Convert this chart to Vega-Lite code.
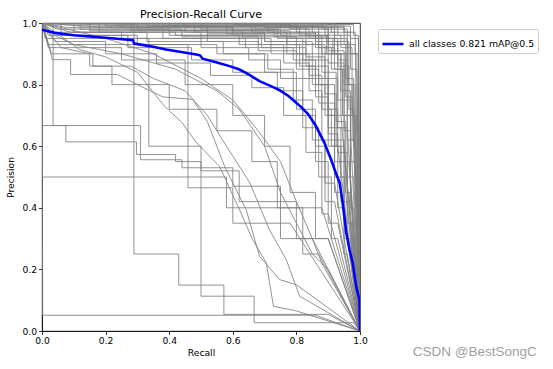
{
"$schema": "https://vega.github.io/schema/vega-lite/v6.json",
"width": 318, "height": 308,
"autosize": {"type": "none"},
"padding": {"left": 42, "top": 23, "right": 193, "bottom": 38},
"title": {"text": "Precision-Recall Curve", "font": "DejaVu Sans", "fontSize": 11, "fontWeight": "normal", "color": "#000", "anchor": "middle", "offset": -1},
"config": {
 "view": {"stroke": "#000", "strokeWidth": 0.8},
 "axis": {"labelFont": "DejaVu Sans", "labelFontSize": 9.2, "labelColor": "#000", "labelFlush": false, "titleFont": "DejaVu Sans", "titleFontSize": 9.2, "titleFontWeight": "normal", "titleColor": "#000", "tickColor": "#000", "domainColor": "#000", "domainWidth": 0.8, "tickWidth": 0.8, "tickSize": 3.5, "grid": false, "labelPadding": 2},
 "axisX": {"titlePadding": 3},
 "axisY": {"titlePadding": 6}
},
"datasets": {
"g": [
{"c":1,"r":0,"p":1},{"c":1,"r":0.62,"p":1},{"c":1,"r":0.62,"p":0.99},{"c":1,"r":0.9,"p":0.99},{"c":1,"r":0.9,"p":0.95},{"c":1,"r":0.96,"p":0.95},{"c":1,"r":0.96,"p":0.7},{"c":1,"r":0.985,"p":0.7},{"c":1,"r":1,"p":0},
{"c":2,"r":0,"p":1},{"c":2,"r":0.3,"p":1},{"c":2,"r":0.3,"p":0.98},{"c":2,"r":0.75,"p":0.98},{"c":2,"r":0.75,"p":0.96},{"c":2,"r":0.88,"p":0.96},{"c":2,"r":0.88,"p":0.9},{"c":2,"r":0.93,"p":0.9},{"c":2,"r":0.93,"p":0.75},{"c":2,"r":0.97,"p":0.75},{"c":2,"r":0.97,"p":0.5},{"c":2,"r":0.98,"p":0.5},{"c":2,"r":1,"p":0},
{"c":3,"r":0,"p":1},{"c":3,"r":0.45,"p":1},{"c":3,"r":0.45,"p":0.97},{"c":3,"r":0.7,"p":0.97},{"c":3,"r":0.7,"p":0.94},{"c":3,"r":0.85,"p":0.94},{"c":3,"r":0.85,"p":0.88},{"c":3,"r":0.9,"p":0.88},{"c":3,"r":0.9,"p":0.7},{"c":3,"r":0.94,"p":0.7},{"c":3,"r":1,"p":0},
{"c":4,"r":0,"p":1},{"c":4,"r":0.8,"p":1},{"c":4,"r":0.8,"p":0.99},{"c":4,"r":0.93,"p":0.99},{"c":4,"r":0.93,"p":0.96},{"c":4,"r":0.97,"p":0.96},{"c":4,"r":0.97,"p":0.85},{"c":4,"r":0.99,"p":0.85},{"c":4,"r":1,"p":0},
{"c":5,"r":0,"p":1},{"c":5,"r":0.1,"p":1},{"c":5,"r":0.1,"p":0.97},{"c":5,"r":0.5,"p":0.97},{"c":5,"r":0.5,"p":0.95},{"c":5,"r":0.72,"p":0.95},{"c":5,"r":0.72,"p":0.9},{"c":5,"r":0.82,"p":0.9},{"c":5,"r":0.82,"p":0.82},{"c":5,"r":0.9,"p":0.82},{"c":5,"r":0.9,"p":0.6},{"c":5,"r":0.93,"p":0.6},{"c":5,"r":1,"p":0},
{"c":6,"r":0,"p":1},{"c":6,"r":0.2,"p":1},{"c":6,"r":0.2,"p":0.99},{"c":6,"r":0.58,"p":0.99},{"c":6,"r":0.58,"p":0.965},{"c":6,"r":0.86,"p":0.965},{"c":6,"r":0.86,"p":0.92},{"c":6,"r":0.91,"p":0.92},{"c":6,"r":0.91,"p":0.85},{"c":6,"r":0.95,"p":0.85},{"c":6,"r":0.95,"p":0.55},{"c":6,"r":0.965,"p":0.55},{"c":6,"r":1,"p":0},
{"c":7,"r":0,"p":1},{"c":7,"r":0.05,"p":0.98},{"c":7,"r":0.4,"p":0.98},{"c":7,"r":0.4,"p":0.96},{"c":7,"r":0.62,"p":0.96},{"c":7,"r":0.62,"p":0.93},{"c":7,"r":0.76,"p":0.93},{"c":7,"r":0.76,"p":0.87},{"c":7,"r":0.84,"p":0.87},{"c":7,"r":0.84,"p":0.78},{"c":7,"r":0.88,"p":0.78},{"c":7,"r":0.88,"p":0.62},{"c":7,"r":0.92,"p":0.62},{"c":7,"r":0.92,"p":0.45},{"c":7,"r":0.94,"p":0.45},{"c":7,"r":1,"p":0},
{"c":8,"r":0,"p":1},{"c":8,"r":0.7,"p":1},{"c":8,"r":0.7,"p":0.985},{"c":8,"r":0.95,"p":0.985},{"c":8,"r":0.95,"p":0.93},{"c":8,"r":0.985,"p":0.93},{"c":8,"r":1,"p":0},
{"c":9,"r":0,"p":1},{"c":9,"r":0.35,"p":1},{"c":9,"r":0.35,"p":0.99},{"c":9,"r":0.66,"p":0.99},{"c":9,"r":0.66,"p":0.97},{"c":9,"r":0.83,"p":0.97},{"c":9,"r":0.83,"p":0.93},{"c":9,"r":0.89,"p":0.93},{"c":9,"r":0.89,"p":0.82},{"c":9,"r":0.93,"p":0.82},{"c":9,"r":0.93,"p":0.66},{"c":9,"r":0.96,"p":0.66},{"c":9,"r":1,"p":0},
{"c":10,"r":0,"p":1},{"c":10,"r":0.15,"p":1},{"c":10,"r":0.15,"p":0.975},{"c":10,"r":0.52,"p":0.975},{"c":10,"r":0.52,"p":0.94},{"c":10,"r":0.68,"p":0.94},{"c":10,"r":0.68,"p":0.91},{"c":10,"r":0.8,"p":0.91},{"c":10,"r":0.8,"p":0.85},{"c":10,"r":0.87,"p":0.85},{"c":10,"r":0.87,"p":0.74},{"c":10,"r":0.92,"p":0.74},{"c":10,"r":0.92,"p":0.5},{"c":10,"r":0.95,"p":0.5},{"c":10,"r":1,"p":0},
{"c":11,"r":0,"p":1},{"c":11,"r":0.88,"p":1},{"c":11,"r":0.88,"p":0.98},{"c":11,"r":0.96,"p":0.98},{"c":11,"r":0.96,"p":0.9},{"c":11,"r":0.99,"p":0.9},{"c":11,"r":1,"p":0},
{"c":12,"r":0,"p":1},{"c":12,"r":0.25,"p":1},{"c":12,"r":0.25,"p":0.985},{"c":12,"r":0.6,"p":0.985},{"c":12,"r":0.6,"p":0.975},{"c":12,"r":0.78,"p":0.975},{"c":12,"r":0.78,"p":0.95},{"c":12,"r":0.87,"p":0.95},{"c":12,"r":0.87,"p":0.9},{"c":12,"r":0.94,"p":0.9},{"c":12,"r":0.94,"p":0.78},{"c":12,"r":0.97,"p":0.78},{"c":12,"r":0.97,"p":0.4},{"c":12,"r":0.98,"p":0.4},{"c":12,"r":1,"p":0},
{"c":13,"r":0,"p":1},{"c":13,"r":0.02,"p":0.96},{"c":13,"r":0.3,"p":0.96},{"c":13,"r":0.3,"p":0.93},{"c":13,"r":0.55,"p":0.93},{"c":13,"r":0.55,"p":0.9},{"c":13,"r":0.7,"p":0.9},{"c":13,"r":0.7,"p":0.84},{"c":13,"r":0.8,"p":0.84},{"c":13,"r":0.8,"p":0.72},{"c":13,"r":0.86,"p":0.72},{"c":13,"r":0.86,"p":0.55},{"c":13,"r":0.9,"p":0.55},{"c":13,"r":0.9,"p":0.35},{"c":13,"r":0.93,"p":0.35},{"c":13,"r":1,"p":0},
{"c":14,"r":0,"p":1},{"c":14,"r":0.5,"p":1},{"c":14,"r":0.5,"p":0.99},{"c":14,"r":0.85,"p":0.99},{"c":14,"r":0.85,"p":0.97},{"c":14,"r":0.92,"p":0.97},{"c":14,"r":0.92,"p":0.9},{"c":14,"r":0.96,"p":0.9},{"c":14,"r":0.96,"p":0.8},{"c":14,"r":0.98,"p":0.8},{"c":14,"r":1,"p":0},
{"c":15,"r":0,"p":1},{"c":15,"r":0.4,"p":1},{"c":15,"r":0.4,"p":0.975},{"c":15,"r":0.73,"p":0.975},{"c":15,"r":0.73,"p":0.955},{"c":15,"r":0.9,"p":0.955},{"c":15,"r":0.9,"p":0.87},{"c":15,"r":0.95,"p":0.87},{"c":15,"r":0.95,"p":0.65},{"c":15,"r":0.97,"p":0.65},{"c":15,"r":1,"p":0},
{"c":16,"r":0,"p":1},{"c":16,"r":0.6,"p":1},{"c":16,"r":0.6,"p":0.995},{"c":16,"r":0.91,"p":0.995},{"c":16,"r":0.91,"p":0.97},{"c":16,"r":0.97,"p":0.97},{"c":16,"r":0.97,"p":0.9},{"c":16,"r":0.995,"p":0.9},{"c":16,"r":1,"p":0},
{"c":17,"r":0,"p":1},{"c":17,"r":0.08,"p":0.985},{"c":17,"r":0.38,"p":0.985},{"c":17,"r":0.38,"p":0.95},{"c":17,"r":0.64,"p":0.95},{"c":17,"r":0.64,"p":0.92},{"c":17,"r":0.79,"p":0.92},{"c":17,"r":0.79,"p":0.88},{"c":17,"r":0.85,"p":0.88},{"c":17,"r":0.85,"p":0.8},{"c":17,"r":0.89,"p":0.8},{"c":17,"r":0.89,"p":0.7},{"c":17,"r":0.92,"p":0.7},{"c":17,"r":0.92,"p":0.55},{"c":17,"r":0.95,"p":0.55},{"c":17,"r":0.95,"p":0.3},{"c":17,"r":0.97,"p":0.3},{"c":17,"r":1,"p":0},
{"c":18,"r":0,"p":1},{"c":18,"r":0.75,"p":1},{"c":18,"r":0.75,"p":0.99},{"c":18,"r":0.89,"p":0.99},{"c":18,"r":0.89,"p":0.96},{"c":18,"r":0.94,"p":0.96},{"c":18,"r":0.94,"p":0.92},{"c":18,"r":0.975,"p":0.92},{"c":18,"r":0.975,"p":0.7},{"c":18,"r":0.99,"p":0.7},{"c":18,"r":1,"p":0},
{"c":19,"r":0,"p":1},{"c":19,"r":0.18,"p":1},{"c":19,"r":0.18,"p":0.97},{"c":19,"r":0.42,"p":0.97},{"c":19,"r":0.42,"p":0.96},{"c":19,"r":0.69,"p":0.96},{"c":19,"r":0.69,"p":0.92},{"c":19,"r":0.83,"p":0.92},{"c":19,"r":0.83,"p":0.86},{"c":19,"r":0.9,"p":0.86},{"c":19,"r":0.9,"p":0.66},{"c":19,"r":0.94,"p":0.66},{"c":19,"r":0.94,"p":0.42},{"c":19,"r":0.96,"p":0.42},{"c":19,"r":1,"p":0},
{"c":20,"r":0,"p":1},{"c":20,"r":0.92,"p":1},{"c":20,"r":0.92,"p":0.99},{"c":20,"r":0.97,"p":0.99},{"c":20,"r":0.97,"p":0.95},{"c":20,"r":0.995,"p":0.95},{"c":20,"r":1,"p":0},
{"c":21,"r":0,"p":1},{"c":21,"r":0.06,"p":1},{"c":21,"r":0.06,"p":0.96},{"c":21,"r":0.27,"p":0.96},{"c":21,"r":0.27,"p":0.92},{"c":21,"r":0.47,"p":0.92},{"c":21,"r":0.47,"p":0.88},{"c":21,"r":0.6,"p":0.88},{"c":21,"r":0.6,"p":0.84},{"c":21,"r":0.74,"p":0.84},{"c":21,"r":0.74,"p":0.78},{"c":21,"r":0.82,"p":0.78},{"c":21,"r":0.82,"p":0.66},{"c":21,"r":0.87,"p":0.66},{"c":21,"r":0.87,"p":0.5},{"c":21,"r":0.91,"p":0.5},{"c":21,"r":0.91,"p":0.3},{"c":21,"r":0.93,"p":0.3},{"c":21,"r":1,"p":0},
{"c":22,"r":0,"p":1},{"c":22,"r":0.33,"p":1},{"c":22,"r":0.33,"p":0.99},{"c":22,"r":0.71,"p":0.99},{"c":22,"r":0.71,"p":0.97},{"c":22,"r":0.86,"p":0.97},{"c":22,"r":0.86,"p":0.94},{"c":22,"r":0.93,"p":0.94},{"c":22,"r":0.93,"p":0.86},{"c":22,"r":0.965,"p":0.86},{"c":22,"r":0.965,"p":0.72},{"c":22,"r":0.98,"p":0.72},{"c":22,"r":1,"p":0},
{"c":23,"r":0,"p":1},{"c":23,"r":0.55,"p":0.99},{"c":23,"r":0.81,"p":0.99},{"c":23,"r":0.81,"p":0.96},{"c":23,"r":0.895,"p":0.96},{"c":23,"r":0.895,"p":0.9},{"c":23,"r":0.94,"p":0.9},{"c":23,"r":0.94,"p":0.7},{"c":23,"r":0.96,"p":0.7},{"c":23,"r":0.96,"p":0.45},{"c":23,"r":0.97,"p":0.45},{"c":23,"r":1,"p":0},
{"c":24,"r":0,"p":1},{"c":24,"r":0.12,"p":0.99},{"c":24,"r":0.48,"p":0.99},{"c":24,"r":0.48,"p":0.97},{"c":24,"r":0.77,"p":0.97},{"c":24,"r":0.77,"p":0.93},{"c":24,"r":0.88,"p":0.93},{"c":24,"r":0.88,"p":0.84},{"c":24,"r":0.925,"p":0.84},{"c":24,"r":0.925,"p":0.6},{"c":24,"r":0.95,"p":0.6},{"c":24,"r":1,"p":0},
{"c":25,"r":0,"p":1},{"c":25,"r":0.67,"p":1},{"c":25,"r":0.67,"p":0.98},{"c":25,"r":0.84,"p":0.98},{"c":25,"r":0.84,"p":0.95},{"c":25,"r":0.915,"p":0.95},{"c":25,"r":0.915,"p":0.9},{"c":25,"r":0.955,"p":0.9},{"c":25,"r":0.955,"p":0.82},{"c":25,"r":0.98,"p":0.82},{"c":25,"r":0.98,"p":0.6},{"c":25,"r":0.99,"p":0.6},{"c":25,"r":1,"p":0},
{"c":26,"r":0,"p":1},{"c":26,"r":0.04,"p":0.94},{"c":26,"r":0.2,"p":0.94},{"c":26,"r":0.2,"p":0.9},{"c":26,"r":0.36,"p":0.9},{"c":26,"r":0.36,"p":0.87},{"c":26,"r":0.53,"p":0.87},{"c":26,"r":0.53,"p":0.83},{"c":26,"r":0.66,"p":0.83},{"c":26,"r":0.66,"p":0.79},{"c":26,"r":0.76,"p":0.79},{"c":26,"r":0.76,"p":0.7},{"c":26,"r":0.83,"p":0.7},{"c":26,"r":0.83,"p":0.58},{"c":26,"r":0.88,"p":0.58},{"c":26,"r":0.88,"p":0.38},{"c":26,"r":0.9,"p":0.38},{"c":26,"r":1,"p":0},
{"c":27,"r":0,"p":1},{"c":27,"r":0.85,"p":1},{"c":27,"r":0.85,"p":0.99},{"c":27,"r":0.95,"p":0.99},{"c":27,"r":0.95,"p":0.97},{"c":27,"r":0.985,"p":0.97},{"c":27,"r":0.985,"p":0.9},{"c":27,"r":0.995,"p":0.9},{"c":27,"r":1,"p":0},
{"c":28,"r":0,"p":1},{"c":28,"r":0.28,"p":1},{"c":28,"r":0.28,"p":0.975},{"c":28,"r":0.63,"p":0.975},{"c":28,"r":0.63,"p":0.955},{"c":28,"r":0.8,"p":0.955},{"c":28,"r":0.8,"p":0.9},{"c":28,"r":0.87,"p":0.9},{"c":28,"r":0.87,"p":0.8},{"c":28,"r":0.92,"p":0.8},{"c":28,"r":0.92,"p":0.62},{"c":28,"r":0.95,"p":0.62},{"c":28,"r":0.95,"p":0.25},{"c":28,"r":0.96,"p":0.25},{"c":28,"r":1,"p":0},
{"c":29,"r":0,"p":1},{"c":29,"r":0.45,"p":0.995},{"c":29,"r":0.78,"p":0.995},{"c":29,"r":0.78,"p":0.98},{"c":29,"r":0.9,"p":0.98},{"c":29,"r":0.9,"p":0.93},{"c":29,"r":0.955,"p":0.93},{"c":29,"r":0.955,"p":0.76},{"c":29,"r":0.975,"p":0.76},{"c":29,"r":1,"p":0},
{"c":30,"r":0,"p":1},{"c":30,"r":0.09,"p":0.97},{"c":30,"r":0.33,"p":0.97},{"c":30,"r":0.33,"p":0.94},{"c":30,"r":0.57,"p":0.94},{"c":30,"r":0.57,"p":0.9},{"c":30,"r":0.71,"p":0.9},{"c":30,"r":0.71,"p":0.85},{"c":30,"r":0.79,"p":0.85},{"c":30,"r":0.79,"p":0.75},{"c":30,"r":0.85,"p":0.75},{"c":30,"r":0.85,"p":0.62},{"c":30,"r":0.89,"p":0.62},{"c":30,"r":0.89,"p":0.48},{"c":30,"r":0.92,"p":0.48},{"c":30,"r":1,"p":0},
{"c":31,"r":0,"p":1},{"c":31,"r":0.033,"p":0.881},{"c":31,"r":0.09,"p":0.881},{"c":31,"r":0.09,"p":0.833},{"c":31,"r":0.237,"p":0.833},{"c":31,"r":0.3,"p":0.8},{"c":31,"r":0.38,"p":0.76},{"c":31,"r":0.474,"p":0.752},{"c":31,"r":0.52,"p":0.68},{"c":31,"r":0.574,"p":0.535},{"c":31,"r":0.61,"p":0.46},{"c":31,"r":0.642,"p":0.394},{"c":31,"r":0.684,"p":0.243},{"c":31,"r":0.747,"p":0.167},{"c":31,"r":0.8,"p":0.15},{"c":31,"r":1,"p":0},
{"c":32,"r":0,"p":1},{"c":32,"r":0.118,"p":0.914},{"c":32,"r":0.2,"p":0.89},{"c":32,"r":0.3,"p":0.84},{"c":32,"r":0.385,"p":0.73},{"c":32,"r":0.44,"p":0.677},{"c":32,"r":0.485,"p":0.612},{"c":32,"r":0.558,"p":0.535},{"c":32,"r":0.621,"p":0.394},{"c":32,"r":0.662,"p":0.297},{"c":32,"r":0.705,"p":0.222},{"c":32,"r":0.728,"p":0.08},{"c":32,"r":0.794,"p":0.067},{"c":32,"r":1,"p":0},
{"c":33,"r":0,"p":1},{"c":33,"r":0.06,"p":0.92},{"c":33,"r":0.15,"p":0.9},{"c":33,"r":0.15,"p":0.86},{"c":33,"r":0.28,"p":0.86},{"c":33,"r":0.35,"p":0.82},{"c":33,"r":0.45,"p":0.78},{"c":33,"r":0.52,"p":0.7},{"c":33,"r":0.58,"p":0.6},{"c":33,"r":0.63,"p":0.52},{"c":33,"r":0.654,"p":0.48},{"c":33,"r":0.715,"p":0.329},{"c":33,"r":0.768,"p":0.232},{"c":33,"r":0.81,"p":0.113},{"c":33,"r":1,"p":0},
{"c":34,"r":0,"p":1},{"c":34,"r":0.04,"p":0.96},{"c":34,"r":0.1,"p":0.93},{"c":34,"r":0.25,"p":0.9},{"c":34,"r":0.42,"p":0.85},{"c":34,"r":0.55,"p":0.78},{"c":34,"r":0.62,"p":0.72},{"c":34,"r":0.7,"p":0.6},{"c":34,"r":0.75,"p":0.45},{"c":34,"r":0.8,"p":0.35},{"c":34,"r":0.85,"p":0.25},{"c":34,"r":0.9,"p":0.2},{"c":34,"r":1,"p":0},
{"c":35,"r":0,"p":1},{"c":35,"r":0.2,"p":0.95},{"c":35,"r":0.35,"p":0.9},{"c":35,"r":0.5,"p":0.82},{"c":35,"r":0.6,"p":0.75},{"c":35,"r":0.68,"p":0.65},{"c":35,"r":0.75,"p":0.55},{"c":35,"r":0.8,"p":0.42},{"c":35,"r":0.85,"p":0.3},{"c":35,"r":0.88,"p":0.22},{"c":35,"r":1,"p":0},
{"c":36,"r":0,"p":1},{"c":36,"r":0.02,"p":0.92},{"c":36,"r":0.25,"p":0.92},{"c":36,"r":0.25,"p":0.88},{"c":36,"r":0.45,"p":0.88},{"c":36,"r":0.45,"p":0.8},{"c":36,"r":0.6,"p":0.8},{"c":36,"r":0.6,"p":0.7},{"c":36,"r":0.7,"p":0.7},{"c":36,"r":0.7,"p":0.6},{"c":36,"r":0.78,"p":0.6},{"c":36,"r":0.78,"p":0.45},{"c":36,"r":0.86,"p":0.45},{"c":36,"r":0.86,"p":0.3},{"c":36,"r":0.9,"p":0.3},{"c":36,"r":1,"p":0},
{"c":37,"r":0,"p":1},{"c":37,"r":0.03,"p":0.9},{"c":37,"r":0.16,"p":0.9},{"c":37,"r":0.16,"p":0.86},{"c":37,"r":0.22,"p":0.86},{"c":37,"r":0.22,"p":0.8},{"c":37,"r":0.4,"p":0.8},{"c":37,"r":0.4,"p":0.72},{"c":37,"r":0.55,"p":0.72},{"c":37,"r":0.55,"p":0.65},{"c":37,"r":0.66,"p":0.65},{"c":37,"r":0.66,"p":0.55},{"c":37,"r":0.74,"p":0.55},{"c":37,"r":0.74,"p":0.4},{"c":37,"r":0.82,"p":0.4},{"c":37,"r":0.82,"p":0.25},{"c":37,"r":0.87,"p":0.25},{"c":37,"r":1,"p":0},
{"c":38,"r":0,"p":1},{"c":38,"r":0.002,"p":0.051},{"c":38,"r":0.86,"p":0.051},{"c":38,"r":1,"p":0},
{"c":39,"r":0,"p":1},{"c":39,"r":0.001,"p":0.667},{"c":39,"r":0.31,"p":0.667},{"c":39,"r":0.31,"p":0.556},{"c":39,"r":0.44,"p":0.556},{"c":39,"r":0.44,"p":0.53},{"c":39,"r":0.6,"p":0.53},{"c":39,"r":0.6,"p":0.47},{"c":39,"r":0.75,"p":0.47},{"c":39,"r":0.75,"p":0.4},{"c":39,"r":0.88,"p":0.4},{"c":39,"r":1,"p":0},
{"c":40,"r":0,"p":1},{"c":40,"r":0.035,"p":1},{"c":40,"r":0.035,"p":0.667},{"c":40,"r":0.075,"p":0.667},{"c":40,"r":0.075,"p":0.614},{"c":40,"r":0.297,"p":0.614},{"c":40,"r":0.297,"p":0.573},{"c":40,"r":0.42,"p":0.573},{"c":40,"r":0.42,"p":0.55},{"c":40,"r":0.5,"p":0.55},{"c":40,"r":0.5,"p":0.52},{"c":40,"r":0.62,"p":0.52},{"c":40,"r":0.62,"p":0.42},{"c":40,"r":0.8,"p":0.42},{"c":40,"r":0.8,"p":0.3},{"c":40,"r":0.9,"p":0.3},{"c":40,"r":1,"p":0},
{"c":41,"r":0,"p":1},{"c":41,"r":0.001,"p":0.5},{"c":41,"r":0.58,"p":0.5},{"c":41,"r":0.58,"p":0.4},{"c":41,"r":0.75,"p":0.4},{"c":41,"r":0.75,"p":0.3},{"c":41,"r":0.85,"p":0.3},{"c":41,"r":1,"p":0},
{"c":42,"r":0,"p":1},{"c":42,"r":0.289,"p":1},{"c":42,"r":0.289,"p":0.25},{"c":42,"r":0.43,"p":0.25},{"c":42,"r":0.43,"p":0.149},{"c":42,"r":0.572,"p":0.149},{"c":42,"r":0.572,"p":0.054},{"c":42,"r":0.9,"p":0.054},{"c":42,"r":1,"p":0},
{"c":43,"r":0,"p":1},{"c":43,"r":0.01,"p":0.95},{"c":43,"r":0.336,"p":0.95},{"c":43,"r":0.336,"p":0.6},{"c":43,"r":0.5,"p":0.6},{"c":43,"r":0.5,"p":0.113},{"c":43,"r":0.667,"p":0.113},{"c":43,"r":0.667,"p":0.027},{"c":43,"r":0.98,"p":0.027},{"c":43,"r":1,"p":0},
{"c":44,"r":0,"p":1},{"c":44,"r":0.02,"p":0.93},{"c":44,"r":0.459,"p":0.93},{"c":44,"r":0.459,"p":0.465},{"c":44,"r":0.6,"p":0.465},{"c":44,"r":0.6,"p":0.35},{"c":44,"r":0.78,"p":0.35},{"c":44,"r":1,"p":0},
{"c":45,"r":0,"p":1},{"c":45,"r":0.5,"p":1},{"c":45,"r":0.5,"p":0.98},{"c":45,"r":0.74,"p":0.98},{"c":45,"r":0.74,"p":0.95},{"c":45,"r":0.82,"p":0.95},{"c":45,"r":0.82,"p":0.88},{"c":45,"r":0.86,"p":0.88},{"c":45,"r":0.86,"p":0.8},{"c":45,"r":0.9,"p":0.8},{"c":45,"r":0.9,"p":0.72},{"c":45,"r":0.93,"p":0.72},{"c":45,"r":0.93,"p":0.58},{"c":45,"r":0.96,"p":0.58},{"c":45,"r":0.96,"p":0.35},{"c":45,"r":0.975,"p":0.35},{"c":45,"r":1,"p":0},
{"c":46,"r":0,"p":1},{"c":46,"r":0.38,"p":1},{"c":46,"r":0.38,"p":0.99},{"c":46,"r":0.8,"p":0.99},{"c":46,"r":0.8,"p":0.97},{"c":46,"r":0.87,"p":0.97},{"c":46,"r":0.87,"p":0.92},{"c":46,"r":0.92,"p":0.92},{"c":46,"r":0.92,"p":0.85},{"c":46,"r":0.945,"p":0.85},{"c":46,"r":0.945,"p":0.7},{"c":46,"r":0.97,"p":0.7},{"c":46,"r":0.97,"p":0.55},{"c":46,"r":0.985,"p":0.55},{"c":46,"r":1,"p":0},
{"c":47,"r":0,"p":1},{"c":47,"r":0.22,"p":0.985},{"c":47,"r":0.6,"p":0.985},{"c":47,"r":0.6,"p":0.96},{"c":47,"r":0.77,"p":0.96},{"c":47,"r":0.77,"p":0.9},{"c":47,"r":0.84,"p":0.9},{"c":47,"r":0.84,"p":0.83},{"c":47,"r":0.88,"p":0.83},{"c":47,"r":0.88,"p":0.72},{"c":47,"r":0.91,"p":0.72},{"c":47,"r":0.91,"p":0.6},{"c":47,"r":0.94,"p":0.6},{"c":47,"r":0.94,"p":0.5},{"c":47,"r":0.97,"p":0.5},{"c":47,"r":1,"p":0},
{"c":48,"r":0,"p":1},{"c":48,"r":0.65,"p":1},{"c":48,"r":0.65,"p":0.99},{"c":48,"r":0.87,"p":0.99},{"c":48,"r":0.87,"p":0.95},{"c":48,"r":0.93,"p":0.95},{"c":48,"r":0.93,"p":0.88},{"c":48,"r":0.96,"p":0.88},{"c":48,"r":0.96,"p":0.62},{"c":48,"r":0.98,"p":0.62},{"c":48,"r":1,"p":0},
{"c":49,"r":0,"p":1},{"c":49,"r":0.12,"p":1},{"c":49,"r":0.12,"p":0.98},{"c":49,"r":0.44,"p":0.98},{"c":49,"r":0.44,"p":0.955},{"c":49,"r":0.68,"p":0.955},{"c":49,"r":0.68,"p":0.93},{"c":49,"r":0.81,"p":0.93},{"c":49,"r":0.81,"p":0.86},{"c":49,"r":0.86,"p":0.86},{"c":49,"r":0.86,"p":0.76},{"c":49,"r":0.9,"p":0.76},{"c":49,"r":0.9,"p":0.64},{"c":49,"r":0.93,"p":0.64},{"c":49,"r":0.93,"p":0.4},{"c":49,"r":0.95,"p":0.4},{"c":49,"r":1,"p":0},
{"c":50,"r":0,"p":1},{"c":50,"r":0.78,"p":1},{"c":50,"r":0.78,"p":0.985},{"c":50,"r":0.92,"p":0.985},{"c":50,"r":0.92,"p":0.94},{"c":50,"r":0.965,"p":0.94},{"c":50,"r":0.965,"p":0.8},{"c":50,"r":0.985,"p":0.8},{"c":50,"r":0.985,"p":0.5},{"c":50,"r":0.995,"p":0.5},{"c":50,"r":1,"p":0},
{"c":51,"r":0,"p":1},{"c":51,"r":0.3,"p":0.99},{"c":51,"r":0.52,"p":0.99},{"c":51,"r":0.52,"p":0.965},{"c":51,"r":0.7,"p":0.965},{"c":51,"r":0.7,"p":0.94},{"c":51,"r":0.83,"p":0.94},{"c":51,"r":0.83,"p":0.89},{"c":51,"r":0.89,"p":0.89},{"c":51,"r":0.89,"p":0.77},{"c":51,"r":0.925,"p":0.77},{"c":51,"r":0.925,"p":0.68},{"c":51,"r":0.955,"p":0.68},{"c":51,"r":0.955,"p":0.45},{"c":51,"r":0.965,"p":0.45},{"c":51,"r":1,"p":0},
{"c":52,"r":0,"p":1},{"c":52,"r":0.9,"p":1},{"c":52,"r":0.9,"p":0.995},{"c":52,"r":0.98,"p":0.995},{"c":52,"r":0.98,"p":0.96},{"c":52,"r":0.995,"p":0.96},{"c":52,"r":1,"p":0},
{"c":53,"r":0,"p":1},{"c":53,"r":0.03,"p":0.97},{"c":53,"r":0.25,"p":0.97},{"c":53,"r":0.25,"p":0.95},{"c":53,"r":0.5,"p":0.95},{"c":53,"r":0.5,"p":0.92},{"c":53,"r":0.65,"p":0.92},{"c":53,"r":0.65,"p":0.88},{"c":53,"r":0.75,"p":0.88},{"c":53,"r":0.75,"p":0.82},{"c":53,"r":0.82,"p":0.82},{"c":53,"r":0.82,"p":0.7},{"c":53,"r":0.86,"p":0.7},{"c":53,"r":0.86,"p":0.6},{"c":53,"r":0.89,"p":0.6},{"c":53,"r":0.89,"p":0.42},{"c":53,"r":0.92,"p":0.42},{"c":53,"r":1,"p":0},
{"c":54,"r":0,"p":1},{"c":54,"r":0.58,"p":1},{"c":54,"r":0.58,"p":0.985},{"c":54,"r":0.83,"p":0.985},{"c":54,"r":0.83,"p":0.96},{"c":54,"r":0.9,"p":0.96},{"c":54,"r":0.9,"p":0.91},{"c":54,"r":0.95,"p":0.91},{"c":54,"r":0.95,"p":0.8},{"c":54,"r":0.975,"p":0.8},{"c":54,"r":0.975,"p":0.62},{"c":54,"r":0.985,"p":0.62},{"c":54,"r":1,"p":0}
],
"m": [
{"r":0,"p":0.978},{"r":0.04,"p":0.968},{"r":0.1,"p":0.96},{"r":0.2,"p":0.952},{"r":0.286,"p":0.944},{"r":0.29,"p":0.933},{"r":0.338,"p":0.925},{"r":0.39,"p":0.914},{"r":0.485,"p":0.898},{"r":0.497,"p":0.895},{"r":0.505,"p":0.884},{"r":0.55,"p":0.872},{"r":0.59,"p":0.86},{"r":0.621,"p":0.849},{"r":0.65,"p":0.833},{"r":0.684,"p":0.811},{"r":0.72,"p":0.795},{"r":0.747,"p":0.782},{"r":0.775,"p":0.763},{"r":0.795,"p":0.745},{"r":0.815,"p":0.727},{"r":0.836,"p":0.705},{"r":0.86,"p":0.668},{"r":0.888,"p":0.611},{"r":0.909,"p":0.557},{"r":0.925,"p":0.51},{"r":0.936,"p":0.481},{"r":0.944,"p":0.427},{"r":0.957,"p":0.319},{"r":0.967,"p":0.264},{"r":0.977,"p":0.221},{"r":0.988,"p":0.145},{"r":0.998,"p":0.102},{"r":1,"p":0}
]
},
"layer": [
{
 "data": {"name": "g"},
 "mark": {"type": "line", "stroke": "#808080", "strokeWidth": 0.85, "clip": true},
 "encoding": {
  "x": {"field": "r", "type": "quantitative", "scale": {"domain": [0, 1], "nice": false}, "axis": {"title": "Recall", "values": [0, 0.2, 0.4, 0.6, 0.8, 1], "format": ".1f"}},
  "y": {"field": "p", "type": "quantitative", "scale": {"domain": [0, 1], "nice": false}, "axis": {"title": "Precision", "values": [0, 0.2, 0.4, 0.6, 0.8, 1], "format": ".1f"}},
  "detail": {"field": "c", "type": "nominal"},
  "order": [{"field": "r", "type": "quantitative"}, {"field": "p", "type": "quantitative", "sort": "descending"}]
 }
},
{
 "data": {"name": "m"},
 "mark": {"type": "line", "strokeWidth": 2.6, "clip": true},
 "encoding": {
  "x": {"field": "r", "type": "quantitative", "scale": {"domain": [0, 1], "nice": false}},
  "y": {"field": "p", "type": "quantitative", "scale": {"domain": [0, 1], "nice": false}},
  "order": {"field": "r", "type": "quantitative"},
  "color": {"datum": "all classes 0.821 mAP@0.5", "type": "nominal", "scale": {"range": ["#0000ff"]},
   "legend": {"title": null, "orient": "none", "legendX": 336, "legendY": 6, "symbolType": "stroke", "symbolSize": 441, "symbolStrokeWidth": 2.6, "labelFont": "DejaVu Sans", "labelFontSize": 9.3, "labelColor": "#000", "labelOffset": 4, "strokeColor": "#cccccc", "fillColor": "#ffffff", "padding": 3, "cornerRadius": 2}}
 }
},
{
 "data": {"values": [{"t": "CSDN @BestSongC"}]},
 "mark": {"type": "text", "font": "Liberation Sans", "fontSize": 13.5, "color": "#a0a0a0", "align": "center", "baseline": "middle"},
 "encoding": {
  "text": {"field": "t", "type": "nominal"},
  "x": {"datum": 1.361, "type": "quantitative", "scale": {"domain": [0, 1], "nice": false}},
  "y": {"datum": -0.069, "type": "quantitative", "scale": {"domain": [0, 1], "nice": false}}
 }
}
]
}
